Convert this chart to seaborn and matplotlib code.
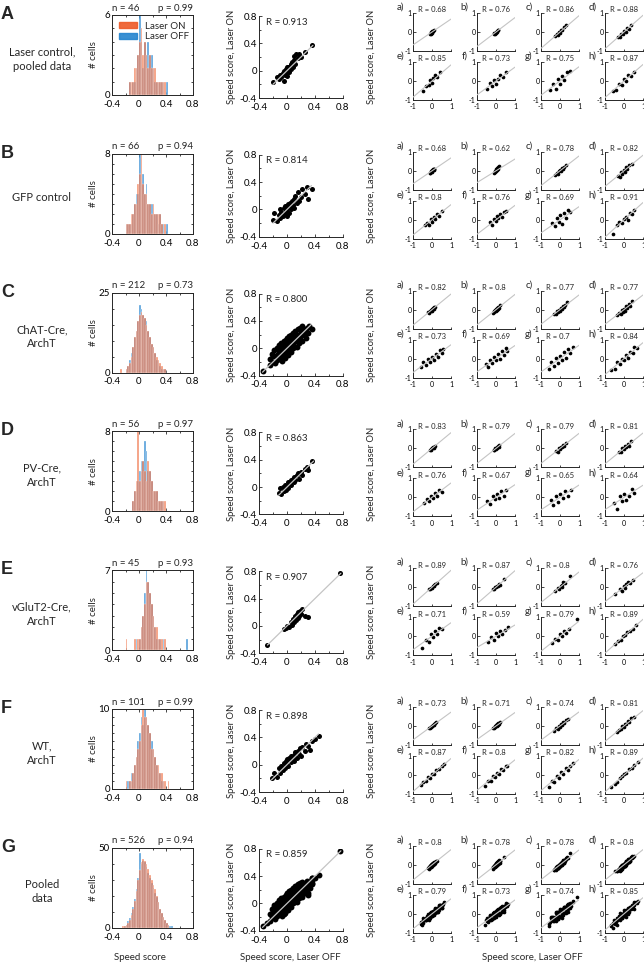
import numpy as np
import pandas as pd
import matplotlib.pyplot as plt
import seaborn as sns
from matplotlib.ticker import MultipleLocator
from matplotlib.patches import Patch

sns.set_style("ticks")
plt.rcParams['font.family'] = ['Lato', 'DejaVu Sans']
plt.rcParams['axes.unicode_minus'] = False

W, H = 644, 968

# ---- labels / stats ----
rows = ['A', 'B', 'C', 'D', 'E', 'F', 'G']
row_names = ['Laser control,\npooled data', 'GFP control', 'ChAT-Cre,\nArchT', 'PV-Cre,\nArchT',
             'vGluT2-Cre,\nArchT', 'WT,\nArchT', 'Pooled\ndata']
n_cells = [46, 66, 212, 56, 45, 101, 526]
p_vals = ['0.99', '0.94', '0.73', '0.97', '0.93', '0.99', '0.94']
hist_ymax = [6, 8, 25, 8, 7, 10, 50]
hist_minor = [1, 1, 5, 1, 1, 1, 10]
r_main = ['0.913', '0.814', '0.800', '0.863', '0.907', '0.898', '0.859']
panel_tags = ['a)', 'b)', 'c)', 'd)', 'e)', 'f)', 'g)', 'h)']
r_small = [
    ['0.68', '0.76', '0.86', '0.88', '0.85', '0.73', '0.75', '0.87'],
    ['0.68', '0.62', '0.78', '0.82', '0.8', '0.76', '0.69', '0.91'],
    ['0.82', '0.8', '0.77', '0.77', '0.73', '0.69', '0.7', '0.84'],
    ['0.83', '0.79', '0.79', '0.81', '0.76', '0.67', '0.65', '0.64'],
    ['0.89', '0.87', '0.8', '0.76', '0.71', '0.59', '0.79', '0.89'],
    ['0.73', '0.71', '0.74', '0.81', '0.87', '0.8', '0.82', '0.89'],
    ['0.8', '0.78', '0.78', '0.8', '0.79', '0.73', '0.74', '0.85'],
]

# ---- histogram counts (bin width 0.025, first bin edge given) ----
bw = 0.025
hist_lo_on = [-0.15, -0.2, -0.275, -0.1, -0.2, -0.2, -0.25]
hist_lo_off = [-0.15, -0.2, -0.2, -0.1, -0.2, -0.2, -0.25]
hist_on = [
    [1, 1, 1, 2, 2, 3, 4, 5, 3, 4, 3, 2, 3, 2, 2, 2, 1, 1, 1, 1, 1, 1],
    [1, 1, 1, 2, 2, 3, 3, 5, 6, 8, 5, 4, 4, 3, 3, 2, 3, 2, 2, 2, 2, 1, 0, 1],
    [1, 0, 0, 1, 2, 3, 5, 8, 11, 13, 16, 18, 19, 18, 17, 15, 13, 11, 9, 8, 6, 5, 4, 3, 2, 1, 1],
    [1, 2, 3, 8, 3, 4, 5, 4, 3, 5, 4, 3, 2, 2, 2, 1, 1, 1, 1, 1],
    [1, 0, 0, 0, 0, 1, 0, 1, 1, 2, 3, 4, 6, 6, 5, 4, 3, 2, 2, 1, 1, 1, 0, 1],
    [1, 0, 1, 1, 2, 3, 4, 5, 6, 8, 10, 9, 9, 8, 7, 5, 5, 4, 3, 3, 2, 2, 1, 1, 0, 1],
    [1, 1, 2, 3, 5, 8, 12, 17, 23, 30, 36, 41, 43, 42, 40, 37, 33, 30, 27, 24, 20, 16, 12, 9, 7, 5, 3, 2],
]
hist_off = [
    [1, 0, 1, 1, 2, 3, 6, 4, 2, 4, 3, 4, 3, 3, 2, 1, 1, 1, 1, 1, 1, 0, 1],
    [1, 1, 1, 1, 2, 3, 4, 4, 8, 5, 6, 4, 5, 3, 3, 3, 2, 2, 2, 1, 2, 1, 1, 0, 1],
    [1, 2, 4, 6, 8, 11, 13, 16, 21, 20, 18, 17, 16, 13, 11, 9, 8, 6, 4, 3, 2, 1, 1, 1],
    [1, 2, 2, 3, 4, 5, 5, 7, 6, 4, 4, 3, 2, 2, 2, 1, 1, 1, 1],
    [0, 0, 0, 0, 0, 0, 1, 0, 1, 2, 3, 5, 7, 6, 5, 4, 3, 2, 1, 1, 1, 0, 1, 0, 0, 0, 0, 0, 0, 0,
     0, 0, 0, 0, 0, 0, 1],
    [0, 1, 1, 2, 2, 3, 4, 6, 7, 9, 8, 10, 9, 8, 7, 6, 5, 4, 3, 2, 2, 1, 1],
    [0, 1, 2, 4, 6, 9, 13, 18, 24, 31, 47, 40, 42, 41, 38, 34, 31, 28, 25, 22, 19, 16, 12, 9, 7, 5, 3, 2, 1, 1],
]

# ---- main scatter: speed score laser OFF (x) vs laser ON (y) ----
off_A = [-0.2, -0.15, -0.12, -0.1, -0.08, -0.06, -0.05, -0.04, -0.03, -0.02, -0.01, 0, 0, 0.01, 0.02,
         0.03, 0.04, 0.05, 0.06, 0.07, 0.08, 0.1, 0.1, 0.12, 0.13, 0.15, 0.17, 0.2, 0.25, 0.35]
on_A = [-0.17, -0.1, -0.12, -0.06, -0.1, -0.04, -0.15, 0.0, -0.06, 0.02, -0.03, 0.05, -0.08, 0.02, 0.06,
        -0.02, 0.05, 0.1, 0.03, 0.12, 0.06, 0.15, 0.22, 0.1, 0.25, 0.18, 0.24, 0.2, 0.28, 0.37]
off_B = [-0.2, -0.18, -0.15, -0.12, -0.1, -0.1, -0.08, -0.06, -0.05, -0.04, -0.03, -0.02, 0, 0, 0.01, 0.02,
         0.03, 0.04, 0.05, 0.06, 0.07, 0.08, 0.1, 0.1, 0.12, 0.14, 0.15, 0.17, 0.2, 0.22, 0.25, 0.28, 0.3, 0.35]
on_B = [-0.15, -0.05, -0.17, -0.08, 0.0, -0.12, -0.03, -0.1, 0.02, -0.06, 0.05, -0.02, 0.0, -0.1, 0.08, 0.03,
        -0.05, 0.1, 0.05, 0.0, 0.12, 0.06, 0.15, 0.02, 0.2, 0.1, 0.25, 0.12, 0.18, 0.3, 0.22, 0.33, 0.15, 0.3]
off_C = [-0.35, -0.25, -0.24, -0.22, -0.2, -0.2, -0.18, -0.17, -0.15, -0.15, -0.14, -0.12, -0.12, -0.1,
         -0.1, -0.09, -0.08, -0.08, -0.07, -0.06, -0.05, -0.05, -0.04, -0.03, -0.03, -0.02, -0.01, 0, 0,
         0.01, 0.02, 0.02, 0.03, 0.04, 0.05, 0.05, 0.06, 0.07, 0.08, 0.08, 0.09, 0.1, 0.1, 0.11, 0.12,
         0.13, 0.14, 0.15, 0.15, 0.16, 0.17, 0.18, 0.19, 0.2, 0.21, 0.22, 0.24, 0.25, 0.27, 0.28, 0.3,
         0.32, 0.35]
on_C = [-0.33, -0.15, -0.25, -0.08, -0.2, -0.12, -0.02, -0.22, -0.1, 0.0, -0.17, -0.05, 0.05, -0.13,
        -0.02, 0.08, -0.08, 0.02, -0.18, 0.0, -0.1, 0.1, -0.04, 0.05, -0.14, 0.12, -0.06, 0.02, 0.15,
        -0.1, 0.07, -0.02, 0.18, 0.1, -0.05, 0.04, 0.2, 0.12, 0.0, 0.08, 0.22, 0.14, 0.04, 0.25, 0.1,
        0.18, 0.02, 0.28, 0.12, 0.2, 0.08, 0.3, 0.16, 0.24, 0.1, 0.32, 0.2, 0.27, 0.15, 0.3, 0.22,
        0.32, 0.28]
off_D = [-0.12, -0.1, -0.08, -0.06, -0.05, -0.03, -0.02, 0, 0.01, 0.02, 0.04, 0.05, 0.06, 0.08, 0.1, 0.1,
         0.12, 0.14, 0.15, 0.17, 0.2, 0.22, 0.25, 0.28, 0.3, 0.35]
on_D = [-0.08, -0.02, -0.1, 0.0, -0.06, 0.03, -0.04, 0.02, 0.08, -0.02, 0.06, 0.1, 0.03, 0.12, 0.08, 0.15,
        0.1, 0.18, 0.2, 0.12, 0.22, 0.18, 0.26, 0.3, 0.25, 0.38]
off_E = [-0.28, -0.05, -0.02, 0, 0.03, 0.05, 0.07, 0.08, 0.1, 0.11, 0.12, 0.13, 0.14, 0.15, 0.16, 0.17,
         0.18, 0.2, 0.22, 0.25, 0.3, 0.75]
on_E = [-0.28, -0.05, -0.03, 0.0, -0.02, 0.05, 0.02, 0.1, 0.06, 0.12, 0.15, 0.08, 0.18, 0.12, 0.2, 0.14,
        0.22, 0.17, 0.25, 0.15, 0.13, 0.77]
off_F = [-0.22, -0.18, -0.15, -0.12, -0.1, -0.08, -0.06, -0.05, -0.03, -0.02, 0, 0, 0.02, 0.03, 0.05,
         0.06, 0.08, 0.1, 0.1, 0.12, 0.14, 0.15, 0.17, 0.19, 0.2, 0.22, 0.25, 0.27, 0.3, 0.33, 0.36, 0.4, 0.45]
on_F = [-0.2, -0.12, -0.18, -0.05, -0.12, -0.02, -0.08, 0.02, -0.05, 0.05, 0.0, 0.08, -0.02, 0.1, 0.04,
        0.12, 0.08, 0.14, 0.05, 0.18, 0.1, 0.2, 0.15, 0.24, 0.12, 0.26, 0.2, 0.3, 0.28, 0.22, 0.35, 0.38, 0.42]

# ---- small panels a)-h): OFF (x) and ON (y) per panel ----
sm_off_A = [[-0.1, -0.07, -0.05, -0.02, 0, 0.02, 0.04, 0.07, 0.1],
            [-0.12, -0.08, -0.05, -0.02, 0.0, 0.03, 0.06, 0.09, 0.12],
            [-0.25, -0.18, -0.1, -0.05, 0.0, 0.05, 0.12, 0.2, 0.3],
            [-0.3, -0.2, -0.15, -0.05, 0.0, 0.08, 0.15, 0.25, 0.35],
            [-0.45, -0.3, -0.15, -0.1, 0.0, 0.05, 0.15, 0.25, 0.4],
            [-0.5, -0.3, -0.2, -0.1, 0.0, 0.1, 0.2, 0.35, 0.55],
            [-0.55, -0.35, -0.2, -0.1, 0.0, 0.1, 0.2, 0.35, 0.5],
            [-0.6, -0.4, -0.25, -0.1, 0.0, 0.1, 0.2, 0.35, 0.5]]
sm_on_A = [[-0.08, -0.1, -0.02, -0.05, 0.03, 0.0, 0.06, 0.04, 0.1],
           [-0.1, -0.05, -0.09, 0.02, -0.03, 0.07, 0.02, 0.1, 0.08],
           [-0.22, -0.12, -0.15, 0.0, -0.05, 0.1, 0.08, 0.25, 0.35],
           [-0.28, -0.25, -0.08, -0.12, 0.05, 0.0, 0.2, 0.15, 0.38],
           [-0.5, -0.25, -0.2, 0.05, -0.1, 0.15, 0.3, 0.2, 0.45],
           [-0.4, -0.1, -0.25, 0.05, -0.15, 0.1, 0.3, 0.2, 0.45],
           [-0.45, -0.15, -0.4, 0.1, -0.15, 0.25, 0.05, 0.45, 0.55],
           [-0.5, -0.45, -0.15, -0.2, 0.1, 0.0, 0.3, 0.25, 0.45]]
sm_off_B = [[-0.12, -0.08, -0.05, -0.02, 0.0, 0.02, 0.05, 0.08, 0.1, 0.12],
            [-0.1, -0.06, -0.03, 0.0, 0.02, 0.04, 0.07, 0.1, 0.12, 0.15],
            [-0.25, -0.18, -0.12, -0.05, 0.0, 0.05, 0.1, 0.15, 0.22, 0.3],
            [-0.3, -0.22, -0.15, -0.08, 0.0, 0.05, 0.1, 0.18, 0.25, 0.4],
            [-0.35, -0.25, -0.15, -0.05, 0.0, 0.08, 0.15, 0.25, 0.35, 0.5],
            [-0.3, -0.2, -0.1, 0.0, 0.05, 0.1, 0.2, 0.3, 0.4, 0.5],
            [-0.4, -0.25, -0.15, -0.05, 0.0, 0.1, 0.2, 0.3, 0.4, 0.55],
            [-0.6, -0.35, -0.25, -0.1, 0.0, 0.1, 0.2, 0.3, 0.4, 0.5]]
sm_on_B = [[-0.1, -0.12, -0.02, -0.06, 0.05, 0.0, 0.08, 0.03, 0.12, 0.1],
           [-0.12, 0.0, -0.05, 0.08, 0.0, 0.15, 0.05, 0.2, 0.1, 0.25],
           [-0.2, -0.1, -0.15, 0.0, 0.05, -0.02, 0.15, 0.08, 0.2, 0.28],
           [-0.25, -0.3, -0.05, -0.15, 0.05, -0.05, 0.2, 0.1, 0.3, 0.38],
           [-0.3, -0.15, -0.25, 0.05, -0.1, 0.15, 0.05, 0.3, 0.2, 0.45],
           [-0.1, -0.25, 0.05, -0.05, 0.2, 0.1, 0.3, 0.15, 0.4, 0.45],
           [-0.15, -0.35, 0.1, -0.1, 0.25, -0.2, 0.35, 0.1, 0.5, 0.4],
           [-0.75, -0.3, -0.1, -0.15, 0.05, 0.15, 0.0, 0.35, 0.3, 0.5]]
sm_off_C = [[-0.2, -0.15, -0.1, -0.07, -0.04, -0.02, 0.0, 0.02, 0.05, 0.08, 0.12, 0.18],
            [-0.18, -0.12, -0.08, -0.05, -0.02, 0.0, 0.03, 0.06, 0.09, 0.12, 0.16, 0.2],
            [-0.3, -0.2, -0.15, -0.1, -0.05, 0.0, 0.05, 0.1, 0.15, 0.2, 0.28, 0.35],
            [-0.35, -0.25, -0.18, -0.1, -0.05, 0.0, 0.05, 0.12, 0.18, 0.25, 0.32, 0.4],
            [-0.6, -0.45, -0.3, -0.2, -0.1, 0.0, 0.1, 0.2, 0.3, 0.4, 0.5, 0.6],
            [-0.55, -0.4, -0.3, -0.2, -0.1, 0.0, 0.1, 0.2, 0.3, 0.4, 0.5, 0.6],
            [-0.6, -0.45, -0.3, -0.2, -0.1, 0.0, 0.1, 0.2, 0.3, 0.4, 0.55, 0.7],
            [-0.7, -0.5, -0.35, -0.2, -0.1, 0.0, 0.1, 0.2, 0.3, 0.45, 0.55, 0.7]]
sm_on_C = [[-0.15, -0.2, -0.05, -0.1, 0.0, -0.06, 0.04, 0.0, 0.08, 0.04, 0.15, 0.12],
           [-0.2, -0.08, -0.12, 0.0, -0.05, 0.05, 0.0, 0.1, 0.04, 0.15, 0.1, 0.22],
           [-0.25, -0.25, -0.05, -0.15, 0.0, -0.05, 0.1, 0.02, 0.2, 0.12, 0.25, 0.4],
           [-0.3, -0.2, -0.25, 0.0, -0.12, 0.05, -0.05, 0.2, 0.1, 0.3, 0.2, 0.45],
           [-0.45, -0.2, -0.35, 0.0, -0.2, 0.1, -0.05, 0.25, 0.1, 0.45, 0.3, 0.5],
           [-0.3, -0.45, -0.05, -0.25, 0.1, -0.1, 0.25, 0.0, 0.4, 0.2, 0.55, 0.4],
           [-0.55, -0.2, -0.4, 0.05, -0.25, 0.15, -0.1, 0.35, 0.05, 0.5, 0.3, 0.6],
           [-0.6, -0.55, -0.2, -0.3, 0.0, -0.1, 0.2, 0.05, 0.35, 0.3, 0.6, 0.55]]
sm_off_D = [[-0.1, -0.06, -0.03, 0.0, 0.02, 0.05, 0.08, 0.1, 0.14],
            [-0.12, -0.08, -0.04, 0.0, 0.03, 0.06, 0.1, 0.14, 0.18],
            [-0.2, -0.12, -0.06, 0.0, 0.05, 0.1, 0.15, 0.22, 0.3],
            [-0.25, -0.15, -0.08, 0.0, 0.06, 0.12, 0.2, 0.28, 0.38],
            [-0.4, -0.25, -0.15, -0.05, 0.05, 0.15, 0.25, 0.35, 0.5],
            [-0.45, -0.3, -0.15, -0.05, 0.05, 0.15, 0.25, 0.4, 0.55],
            [-0.5, -0.35, -0.2, -0.1, 0.0, 0.15, 0.25, 0.4, 0.6],
            [-0.55, -0.35, -0.2, -0.1, 0.0, 0.1, 0.25, 0.4, 0.55]]
sm_on_D = [[-0.08, -0.03, -0.06, 0.02, 0.0, 0.07, 0.04, 0.1, 0.12],
           [-0.1, -0.1, 0.0, -0.04, 0.06, 0.02, 0.12, 0.08, 0.2],
           [-0.15, -0.18, 0.0, -0.04, 0.1, 0.05, 0.2, 0.12, 0.3],
           [-0.2, -0.2, 0.0, -0.05, 0.12, 0.05, 0.25, 0.15, 0.38],
           [-0.3, -0.1, -0.2, 0.1, -0.05, 0.25, 0.1, 0.4, 0.3],
           [-0.2, -0.35, 0.05, -0.1, 0.2, -0.05, 0.35, 0.1, 0.4],
           [-0.15, -0.4, 0.1, -0.25, 0.2, -0.05, 0.35, 0.1, 0.4],
           [-0.3, -0.6, 0.05, -0.2, 0.2, -0.15, 0.1, 0.45, 0.25]]
sm_off_E = [[-0.15, -0.1, -0.05, 0.0, 0.04, 0.08, 0.12, 0.18, 0.25],
            [-0.15, -0.08, -0.03, 0.02, 0.06, 0.1, 0.15, 0.2, 0.4],
            [-0.25, -0.1, -0.03, 0.03, 0.08, 0.12, 0.18, 0.25, 0.5],
            [-0.45, -0.2, -0.1, 0.0, 0.05, 0.12, 0.2, 0.3, 0.45],
            [-0.55, -0.3, -0.15, -0.05, 0.05, 0.15, 0.25, 0.35, 0.5],
            [-0.4, -0.25, -0.1, 0.0, 0.1, 0.2, 0.3, 0.45, 0.65],
            [-0.4, -0.25, -0.1, 0.0, 0.1, 0.2, 0.3, 0.45, 0.9],
            [-0.45, -0.3, -0.15, -0.05, 0.05, 0.15, 0.3, 0.45, 0.65]]
sm_on_E = [[-0.12, -0.1, -0.02, -0.03, 0.05, 0.06, 0.1, 0.15, 0.22],
           [-0.1, -0.1, 0.0, 0.0, 0.08, 0.05, 0.15, 0.12, 0.42],
           [-0.2, -0.05, -0.1, 0.05, 0.12, 0.0, 0.25, 0.2, 0.6],
           [-0.35, -0.1, -0.2, 0.05, -0.05, 0.15, 0.3, 0.2, 0.4],
           [-0.6, -0.2, -0.3, 0.1, -0.05, 0.25, 0.1, 0.45, 0.4],
           [-0.3, -0.05, -0.2, 0.15, 0.0, 0.3, 0.1, 0.35, 0.5],
           [-0.35, -0.15, -0.2, 0.1, 0.0, 0.25, 0.15, 0.4, 0.9],
           [-0.4, -0.25, -0.2, 0.0, 0.05, 0.2, 0.25, 0.4, 0.6]]
sm_off_F = [[-0.15, -0.1, -0.06, -0.03, 0.0, 0.02, 0.05, 0.08, 0.11, 0.15, 0.2],
            [-0.15, -0.1, -0.06, -0.03, 0.0, 0.03, 0.06, 0.09, 0.12, 0.16, 0.22],
            [-0.3, -0.2, -0.12, -0.06, 0.0, 0.05, 0.1, 0.15, 0.22, 0.3, 0.4],
            [-0.35, -0.25, -0.15, -0.08, 0.0, 0.06, 0.12, 0.2, 0.28, 0.38, 0.5],
            [-0.6, -0.45, -0.3, -0.2, -0.1, 0.0, 0.1, 0.2, 0.35, 0.5, 0.65],
            [-0.6, -0.4, -0.25, -0.15, -0.05, 0.05, 0.15, 0.25, 0.35, 0.5, 0.6],
            [-0.6, -0.4, -0.3, -0.15, -0.05, 0.05, 0.15, 0.3, 0.4, 0.55, 0.7],
            [-0.7, -0.5, -0.35, -0.2, -0.1, 0.0, 0.1, 0.25, 0.4, 0.55, 0.75]]
sm_on_F = [[-0.12, -0.1, -0.03, -0.06, 0.02, 0.0, 0.06, 0.05, 0.1, 0.15, 0.2],
           [-0.1, -0.12, -0.02, -0.05, 0.04, 0.0, 0.08, 0.05, 0.14, 0.12, 0.2],
           [-0.25, -0.12, -0.15, 0.0, -0.05, 0.1, 0.04, 0.2, 0.15, 0.32, 0.35],
           [-0.3, -0.2, -0.15, 0.0, -0.05, 0.1, 0.08, 0.25, 0.2, 0.4, 0.45],
           [-0.55, -0.35, -0.3, -0.1, -0.15, 0.05, 0.05, 0.25, 0.3, 0.45, 0.6],
           [-0.6, -0.3, -0.3, -0.05, -0.1, 0.1, 0.05, 0.3, 0.25, 0.5, 0.45],
           [-0.65, -0.3, -0.35, -0.05, -0.15, 0.15, 0.05, 0.35, 0.25, 0.5, 0.65],
           [-0.65, -0.45, -0.35, -0.15, -0.05, 0.05, 0.1, 0.3, 0.35, 0.55, 0.7]]

# pooled data (row G) = all cells of rows A-F together
main_off = [off_A, off_B, off_C, off_D, off_E, off_F]
main_on = [on_A, on_B, on_C, on_D, on_E, on_F]
main_off.append(sum(main_off, []))
main_on.append(sum(main_on, []))
sm_off = [sm_off_A, sm_off_B, sm_off_C, sm_off_D, sm_off_E, sm_off_F]
sm_on = [sm_on_A, sm_on_B, sm_on_C, sm_on_D, sm_on_E, sm_on_F]
sm_off.append([sum([r[k] for r in sm_off], []) for k in range(8)])
sm_on.append([sum([r[k] for r in sm_on], []) for k in range(8)])

ON_COL = '#EE5A28'
OFF_COL = '#2384CF'
LINE_COL = '#C4C4C4'
AX_COL = '#262626'


def px_axes(fig, x, y, w, h):
    return fig.add_axes([x / W, 1 - (y + h) / H, w / W, h / H])


def style(ax, size, box):
    for s in ['top', 'right']:
        ax.spines[s].set_visible(box)
    for s in ax.spines.values():
        s.set_linewidth(0.7)
        s.set_color(AX_COL)
    ax.tick_params(which='both', direction='in', width=0.6, colors=AX_COL, labelsize=size,
                   pad=1.5, top=box, right=box, labelcolor='black')
    ax.tick_params(which='major', length=2.5)
    ax.tick_params(which='minor', length=1.5)
    ax.set_xlabel('')
    ax.set_ylabel('')


fig = plt.figure(figsize=(W / 100, H / 100), dpi=100)

for i, key in enumerate(rows):
    t = 15 + 138.8 * i

    fig.text(1 / W, 1 - (t - 9) / H, key, fontsize=13, fontweight='bold',
             family=['Liberation Sans', 'DejaVu Sans'], ha='left', va='top')
    fig.text(42 / W, 1 - (t + 44) / H, row_names[i], fontsize=8, ha='center', va='center',
             linespacing=1.35)

    # histogram of speed scores
    ax = px_axes(fig, 112, t, 81, 80)
    for counts, lo, col, a in [(hist_off[i], hist_lo_off[i], OFF_COL, 0.75),
                               (hist_on[i], hist_lo_on[i], ON_COL, 0.62)]:
        hdf = pd.DataFrame({'score': lo + bw * (np.arange(len(counts)) + 0.5),
                            'count': np.array(counts, dtype=float)})
        edges = (lo + bw * np.arange(len(counts) + 1)).tolist()
        sns.histplot(data=hdf, x='score', weights='count', bins=edges, ax=ax, color=col,
                     alpha=a, linewidth=0.2, edgecolor='white')
    ax.set_xlim(-0.4, 0.8)
    ax.set_ylim(0, hist_ymax[i])
    ax.set_xticks([-0.4, 0, 0.4, 0.8])
    ax.set_xticklabels(['-0.4', '0', '0.4', '0.8'])
    ax.xaxis.set_minor_locator(MultipleLocator(0.2))
    ax.set_yticks([0, hist_ymax[i]])
    ax.yaxis.set_minor_locator(MultipleLocator(hist_minor[i]))
    style(ax, 7, True)
    ax.tick_params(axis='x', pad=3.5)
    ax.text(0.0, 1.03, f'n = {n_cells[i]}', transform=ax.transAxes, fontsize=7, ha='left', va='bottom')
    ax.text(1.0, 1.03, f'p = {p_vals[i]}', transform=ax.transAxes, fontsize=7, ha='right', va='bottom')
    fig.text(93 / W, 1 - (t + 40) / H, '# cells', rotation=90, fontsize=7, ha='center', va='center')
    if i == 0:
        handles = [Patch(color=ON_COL, alpha=0.9), Patch(color=OFF_COL, alpha=0.9)]
        ax.legend(handles, ['Laser ON', 'Laser OFF'], loc='upper left', bbox_to_anchor=(0.0, 1.0),
                  frameon=False, fontsize=7, handlelength=1.9, handleheight=0.6,
                  handletextpad=0.8, borderaxespad=0.3, labelspacing=0.15)

    # main scatter OFF vs ON
    ax2 = px_axes(fig, 259, t + 1, 84, 82)
    ms = 18 if key in ('C', 'G') else 13
    sdf = pd.DataFrame({'off': main_off[i], 'on': main_on[i]})
    sns.scatterplot(data=sdf, x='off', y='on', ax=ax2, color='black', s=ms, linewidth=0,
                    legend=False, zorder=2)
    allv = np.array(main_off[i] + main_on[i])
    ax2.plot([allv.min(), allv.max()], [allv.min(), allv.max()], color=LINE_COL, lw=0.9, zorder=3)
    ax2.set_xlim(-0.4, 0.8)
    ax2.set_ylim(-0.4, 0.8)
    ax2.set_xticks([-0.4, 0, 0.4, 0.8])
    ax2.set_xticklabels(['-0.4', '0', '0.4', '0.8'])
    ax2.set_yticks([-0.4, 0, 0.4, 0.8])
    ax2.set_yticklabels(['-0.4', '0', '0.4', '0.8'])
    ax2.xaxis.set_minor_locator(MultipleLocator(0.2))
    ax2.yaxis.set_minor_locator(MultipleLocator(0.2))
    style(ax2, 7, False)
    ax2.tick_params(axis='x', pad=3.5)
    ax2.text(0.08, 0.925, f'R = {r_main[i]}', transform=ax2.transAxes, fontsize=7, va='center')
    fig.text(231 / W, 1 - (t + 42) / H, 'Speed score, Laser ON', rotation=90, fontsize=6.8,
             ha='center', va='center')

    # small panels a)-h)
    for j in range(8):
        rr, cc = divmod(j, 4)
        ax3 = px_axes(fig, 413 + 64 * cc, t - 2 + 49 * rr, 38, 38)
        pdf = pd.DataFrame({'off': sm_off[i][j], 'on': sm_on[i][j]})
        sns.scatterplot(data=pdf, x='off', y='on', ax=ax3, color='black', s=7, linewidth=0,
                        legend=False, zorder=2)
        rv = float(r_small[i][j])
        ax3.plot([-1, 1], [-rv, rv], color=LINE_COL, lw=0.8, zorder=3)
        ax3.set_xlim(-1, 1)
        ax3.set_ylim(-1, 1)
        ax3.set_xticks([-1, 0, 1])
        ax3.set_yticks([-1, 0, 1])
        style(ax3, 5, False)
        ax3.tick_params(which='major', length=1.8, pad=1)
        ax3.tick_params(axis='x', pad=2.5)
        if rr == 0:
            ax3.tick_params(labelbottom=False)
        ax3.text(0.13, 0.99, f'R = {r_small[i][j]}', transform=ax3.transAxes, fontsize=5.5,
                 ha='left', va='bottom')
        ax3.text(-0.32, 1.15, panel_tags[j], transform=ax3.transAxes, fontsize=7, ha='center',
                 va='center')
    fig.text(372 / W, 1 - (t + 42) / H, 'Speed score, Laser ON', rotation=90, fontsize=6.8,
             ha='center', va='center')

fig.text(140 / W, 1 - 958 / H, 'Speed score', fontsize=7, ha='center', va='center')
fig.text(290 / W, 1 - 958 / H, 'Speed score, Laser OFF', fontsize=7, ha='center', va='center')
fig.text(532 / W, 1 - 958 / H, 'Speed score, Laser OFF', fontsize=7, ha='center', va='center')

fig.savefig('out.png', dpi=100)
